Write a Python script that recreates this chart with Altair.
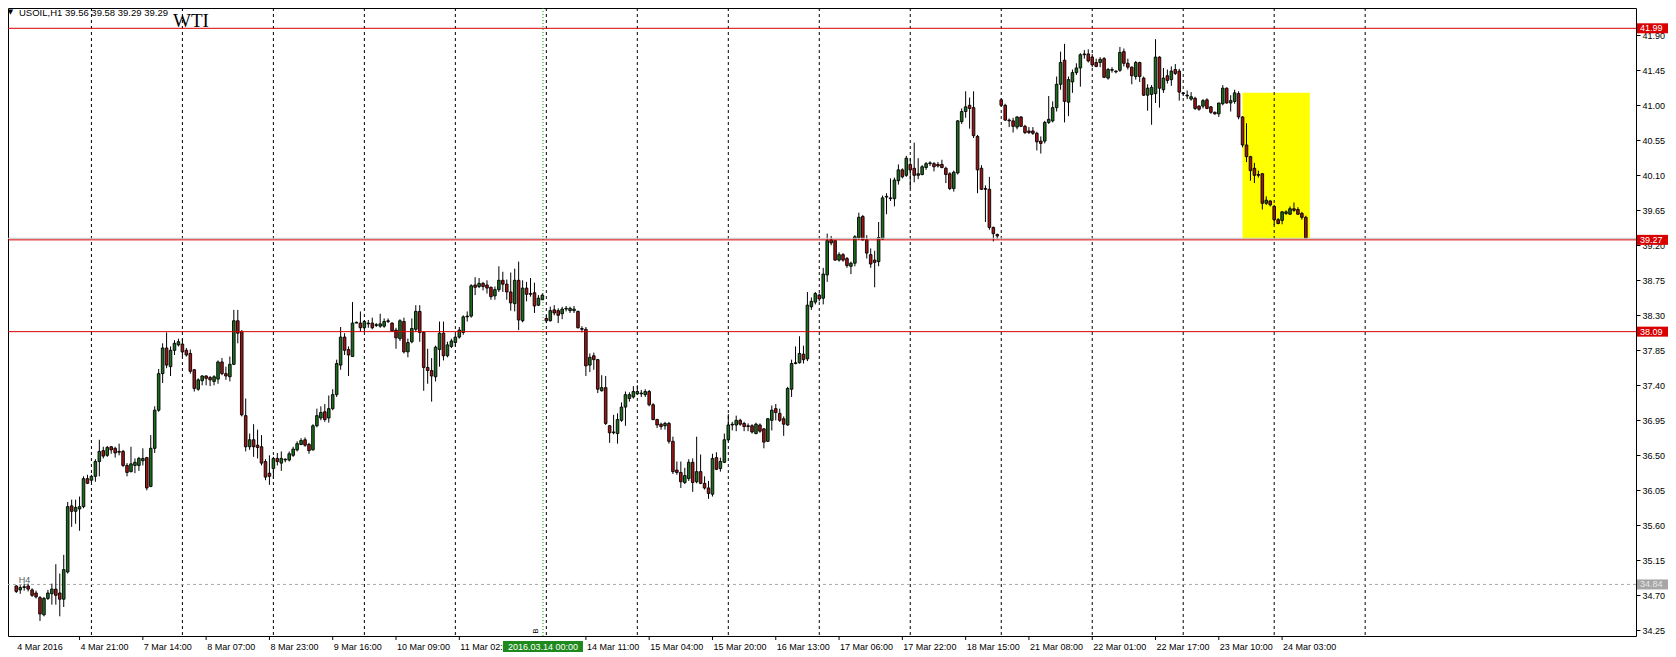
import altair as alt
import pandas as pd

# ---------------- data (USOIL, H1, 4 Mar 2016 05:00 -> 24 Mar 2016 09:00) ----------------
opens = [
    34.82, 34.77, 34.80, 34.82, 34.77, 34.73, 34.67, 34.45, 34.66, 34.72,
    34.78, 34.73, 34.65, 35.00, 35.85, 35.78, 35.81, 35.84, 36.20, 36.18,
    36.23, 36.42, 36.56, 36.50, 36.61, 36.59, 36.54, 36.55, 36.37, 36.29,
    36.37, 36.37, 36.43, 36.47, 36.10, 36.59, 37.08, 37.55, 37.88, 37.64,
    37.85, 37.92, 37.93, 37.85, 37.81, 37.60, 37.35, 37.46, 37.52, 37.50,
    37.45, 37.48, 37.70, 37.55, 37.51, 37.67, 38.23, 38.09, 37.01, 36.61,
    36.70, 36.63, 36.61, 36.42, 36.27, 36.33, 36.46, 36.40, 36.44, 36.44,
    36.50, 36.57, 36.64, 36.70, 36.64, 36.57, 36.88, 36.98, 37.06, 36.98,
    37.10, 37.28, 37.66, 38.02, 37.86, 37.77, 38.20, 38.20, 38.14, 38.19,
    38.20, 38.17, 38.16, 38.16, 38.22, 38.20, 38.11, 38.00, 38.22, 37.83,
    37.96, 38.12, 38.35, 38.08, 37.63, 37.59, 37.51, 37.86, 38.07, 37.78,
    37.90, 37.95, 38.02, 38.08, 38.28, 38.29, 38.69, 38.67, 38.71, 38.69,
    38.66, 38.55, 38.63, 38.75, 38.70, 38.60, 38.45, 38.75, 38.23, 38.65,
    38.58, 38.59, 38.43, 38.50, 38.26, 38.23, 38.37, 38.36, 38.32, 38.38,
    38.36, 38.36, 38.35, 38.13, 38.12, 37.66, 37.78, 37.73, 37.33, 37.37,
    36.88, 36.79, 36.78, 36.95, 37.12, 37.23, 37.25, 37.29, 37.29, 37.28,
    37.32, 37.15, 36.96, 36.90, 36.88, 36.91, 36.68, 36.31, 36.28, 36.15,
    36.20, 36.41, 36.16, 36.29, 36.14, 36.08, 36.00, 36.47, 36.33, 36.41,
    36.70, 36.89, 36.89, 36.95, 36.91, 36.88, 36.88, 36.78, 36.89, 36.84,
    36.68, 36.95, 37.10, 37.04, 36.97, 36.89, 37.35, 37.68, 37.69, 37.80,
    37.74, 38.41, 38.47, 38.56, 38.52, 38.82, 39.27, 39.26, 39.01, 39.08,
    39.03, 38.93, 38.97, 39.30, 39.57, 39.27, 39.08, 39.01, 38.99, 39.28,
    39.82, 39.80, 39.80, 40.03, 40.17, 40.10, 40.24, 40.19, 40.10, 40.11,
    40.20, 40.25, 40.25, 40.24, 40.24, 40.19, 40.12, 39.93, 40.13, 40.79,
    40.92, 41.00, 40.97, 40.60, 40.19, 39.93, 39.92, 39.43, 39.34, 41.07,
    41.00, 40.81, 40.80, 40.72, 40.85, 40.73, 40.67, 40.67, 40.64, 40.54,
    40.54, 40.78, 40.80, 40.97, 41.27, 41.58, 41.04, 41.30, 41.42, 41.48,
    41.65, 41.66, 41.62, 41.55, 41.55, 41.60, 41.35, 41.45, 41.44, 41.45,
    41.69, 41.54, 41.49, 41.37, 41.55, 41.35, 41.13, 41.14, 41.15, 41.62,
    41.20, 41.38, 41.33, 41.46, 41.44, 41.16, 41.13, 41.08, 41.09, 40.99,
    40.99, 41.07, 40.98, 40.91, 40.89, 41.02, 41.22, 41.03, 41.05, 41.15,
    40.85, 40.49, 40.34, 40.19, 40.10, 40.12, 39.74, 39.77, 39.70, 39.53,
    39.52, 39.61, 39.60, 39.67, 39.66, 39.61, 39.56,
]
highs = [
    34.83, 34.83, 34.85, 34.85, 34.79, 34.76, 34.69, 34.68, 34.77, 34.85,
    35.10, 34.98, 35.22, 35.90, 35.93, 35.93, 35.97, 36.23, 36.25, 36.25,
    36.45, 36.70, 36.61, 36.62, 36.62, 36.61, 36.65, 36.57, 36.40, 36.61,
    36.46, 36.48, 36.59, 36.48, 36.76, 37.13, 37.61, 37.94, 38.08, 37.90,
    37.98, 38.00, 38.00, 37.88, 37.86, 37.61, 37.49, 37.53, 37.53, 37.52,
    37.53, 37.72, 37.75, 37.64, 37.77, 38.37, 38.37, 38.11, 37.23, 36.78,
    36.90, 36.83, 36.76, 36.45, 36.50, 36.48, 36.53, 36.55, 36.46, 36.55,
    36.61, 36.68, 36.72, 36.73, 36.66, 36.90, 37.10, 37.13, 37.16, 37.27,
    37.35, 37.73, 38.15, 38.07, 37.90, 38.47, 38.22, 38.35, 38.24, 38.24,
    38.27, 38.20, 38.32, 38.26, 38.26, 38.21, 38.14, 38.25, 38.27, 38.00,
    38.26, 38.43, 38.43, 38.09, 37.87, 37.75, 37.91, 38.22, 38.22, 37.96,
    38.00, 38.05, 38.15, 38.30, 38.35, 38.70, 38.79, 38.78, 38.73, 38.75,
    38.67, 38.67, 38.93, 38.86, 38.76, 38.85, 38.90, 38.99, 38.75, 38.73,
    38.78, 38.72, 38.56, 38.58, 38.30, 38.41, 38.43, 38.39, 38.41, 38.42,
    38.41, 38.42, 38.36, 38.16, 38.15, 37.81, 37.82, 37.74, 37.53, 37.52,
    36.89, 37.02, 37.04, 37.18, 37.32, 37.31, 37.39, 37.40, 37.34, 37.35,
    37.34, 37.17, 36.97, 36.92, 36.93, 36.93, 36.74, 36.42, 36.42, 36.34,
    36.45, 36.46, 36.74, 36.51, 36.23, 36.17, 36.52, 36.54, 36.47, 36.78,
    37.03, 36.93, 37.01, 36.97, 36.93, 36.91, 36.90, 36.92, 36.91, 36.85,
    36.98, 37.14, 37.16, 37.10, 37.00, 37.38, 37.73, 37.90, 38.03, 37.91,
    38.60, 38.53, 38.60, 38.58, 38.91, 39.35, 39.32, 39.27, 39.11, 39.10,
    39.05, 38.99, 39.33, 39.62, 39.59, 39.33, 39.16, 39.13, 39.50, 39.84,
    39.87, 40.06, 40.07, 40.24, 40.19, 40.35, 40.32, 40.52, 40.32, 40.23,
    40.27, 40.28, 40.27, 40.27, 40.30, 40.21, 40.14, 40.16, 40.81, 40.96,
    41.18, 41.10, 41.18, 40.62, 40.23, 39.97, 40.08, 39.44, 39.35, 41.09,
    41.02, 40.83, 40.84, 40.86, 40.86, 40.75, 40.72, 40.72, 40.66, 40.60,
    40.80, 41.12, 41.05, 41.37, 41.69, 41.79, 41.37, 41.46, 41.54, 41.67,
    41.71, 41.72, 41.66, 41.60, 41.62, 41.62, 41.48, 41.49, 41.45, 41.75,
    41.73, 41.60, 41.50, 41.57, 41.56, 41.37, 41.27, 41.26, 41.85, 41.63,
    41.48, 41.46, 41.50, 41.53, 41.47, 41.17, 41.19, 41.17, 41.11, 41.00,
    41.08, 41.09, 40.99, 40.92, 41.03, 41.26, 41.23, 41.13, 41.20, 41.18,
    40.86, 40.77, 40.35, 40.26, 40.16, 40.13, 39.83, 39.78, 39.72, 39.55,
    39.64, 39.65, 39.70, 39.75, 39.69, 39.63, 39.58,
]
lows = [
    34.73, 34.72, 34.76, 34.75, 34.68, 34.66, 34.37, 34.43, 34.64, 34.58,
    34.58, 34.43, 34.55, 34.98, 35.58, 35.62, 35.53, 35.82, 36.13, 36.15,
    36.16, 36.23, 36.46, 36.48, 36.52, 36.47, 36.50, 36.35, 36.23, 36.28,
    36.27, 36.30, 36.37, 36.05, 36.09, 36.53, 37.06, 37.43, 37.62, 37.52,
    37.79, 37.90, 37.77, 37.77, 37.55, 37.32, 37.33, 37.40, 37.40, 37.39,
    37.40, 37.42, 37.53, 37.47, 37.45, 37.66, 37.94, 37.00, 36.55, 36.57,
    36.48, 36.46, 36.37, 36.18, 36.12, 36.20, 36.37, 36.30, 36.41, 36.42,
    36.48, 36.55, 36.63, 36.61, 36.52, 36.56, 36.86, 36.95, 36.93, 36.92,
    37.08, 37.25, 37.60, 37.79, 37.52, 37.77, 38.20, 38.09, 38.09, 38.14,
    38.12, 38.15, 38.14, 38.14, 38.20, 38.09, 37.87, 37.97, 37.81, 37.76,
    37.94, 38.09, 37.96, 37.33, 37.42, 37.19, 37.45, 37.64, 37.72, 37.76,
    37.88, 37.90, 38.00, 38.05, 38.22, 38.27, 38.56, 38.65, 38.62, 38.58,
    38.50, 38.50, 38.60, 38.60, 38.50, 38.36, 38.35, 38.11, 38.21, 38.48,
    38.54, 38.33, 38.42, 38.50, 38.20, 38.22, 38.30, 38.20, 38.25, 38.35,
    38.33, 38.33, 38.13, 38.08, 37.52, 37.57, 37.60, 37.30, 37.32, 36.89,
    36.66, 36.77, 36.65, 36.93, 36.88, 37.19, 37.23, 37.28, 37.25, 37.25,
    37.13, 36.95, 36.85, 36.83, 36.83, 36.65, 36.26, 36.25, 36.08, 36.13,
    36.17, 36.03, 36.14, 36.13, 36.06, 35.94, 35.97, 36.31, 36.29, 36.40,
    36.68, 36.82, 36.81, 36.88, 36.81, 36.81, 36.78, 36.77, 36.79, 36.59,
    36.67, 36.82, 36.95, 36.93, 36.75, 36.88, 37.25, 37.67, 37.68, 37.68,
    37.71, 38.37, 38.44, 38.48, 38.44, 38.73, 39.20, 39.00, 38.99, 38.99,
    38.91, 38.83, 38.93, 39.27, 39.26, 39.03, 38.91, 38.66, 38.93, 39.27,
    39.60, 39.77, 39.70, 39.98, 40.06, 40.08, 39.93, 40.01, 40.05, 40.10,
    40.17, 40.22, 40.15, 40.20, 40.19, 40.00, 39.91, 39.89, 40.11, 40.76,
    40.84, 40.70, 40.58, 39.87, 39.91, 39.50, 39.40, 39.25, 39.28, 40.98,
    40.80, 40.72, 40.65, 40.69, 40.72, 40.63, 40.63, 40.62, 40.42, 40.38,
    40.51, 40.76, 40.78, 40.92, 41.20, 40.78, 40.86, 41.16, 41.39, 41.24,
    41.60, 41.55, 41.49, 41.49, 41.49, 41.35, 41.33, 41.42, 41.41, 41.43,
    41.50, 41.46, 41.27, 41.33, 41.30, 41.12, 40.93, 40.75, 41.03, 40.97,
    41.16, 41.28, 41.25, 41.39, 41.06, 41.12, 41.08, 41.06, 40.94, 40.93,
    40.96, 40.95, 40.89, 40.88, 40.85, 41.00, 41.02, 40.92, 41.02, 40.82,
    40.46, 40.27, 40.03, 40.00, 40.07, 39.66, 39.72, 39.70, 39.46, 39.47,
    39.47, 39.59, 39.59, 39.63, 39.59, 39.53, 39.29,
]
closes = [
    34.75, 34.80, 34.81, 34.78, 34.70, 34.68, 34.46, 34.66, 34.73, 34.78,
    34.70, 34.65, 35.03, 35.84, 35.78, 35.83, 35.84, 36.20, 36.14, 36.23,
    36.42, 36.55, 36.49, 36.60, 36.57, 36.53, 36.55, 36.37, 36.28, 36.39,
    36.41, 36.46, 36.46, 36.08, 36.59, 37.08, 37.55, 37.88, 37.66, 37.85,
    37.94, 37.96, 37.83, 37.79, 37.58, 37.36, 37.47, 37.52, 37.49, 37.47,
    37.51, 37.70, 37.55, 37.52, 37.67, 38.23, 38.07, 37.02, 36.61, 36.70,
    36.61, 36.60, 36.40, 36.22, 36.23, 36.46, 36.42, 36.46, 36.45, 36.52,
    36.58, 36.65, 36.69, 36.63, 36.56, 36.88, 37.01, 37.05, 36.96, 37.10,
    37.28, 37.68, 38.02, 37.85, 37.79, 38.20, 38.21, 38.14, 38.22, 38.20,
    38.14, 38.18, 38.19, 38.22, 38.23, 38.10, 38.01, 38.23, 37.83, 37.95,
    38.13, 38.35, 38.08, 37.63, 37.59, 37.52, 37.89, 38.07, 37.78, 37.92,
    37.97, 38.02, 38.11, 38.28, 38.29, 38.68, 38.66, 38.71, 38.67, 38.65,
    38.54, 38.63, 38.75, 38.70, 38.60, 38.46, 38.75, 38.24, 38.65, 38.57,
    38.57, 38.42, 38.52, 38.56, 38.23, 38.36, 38.33, 38.30, 38.38, 38.39,
    38.39, 38.38, 38.14, 38.12, 37.65, 37.76, 37.73, 37.35, 37.37, 36.91,
    36.79, 36.80, 36.96, 37.12, 37.28, 37.28, 37.32, 37.32, 37.30, 37.32,
    37.15, 36.96, 36.89, 36.87, 36.91, 36.68, 36.29, 36.28, 36.16, 36.24,
    36.41, 36.15, 36.29, 36.14, 36.08, 36.01, 36.46, 36.32, 36.42, 36.70,
    36.89, 36.90, 36.95, 36.90, 36.87, 36.87, 36.80, 36.90, 36.81, 36.67,
    36.97, 37.08, 37.05, 36.95, 36.90, 37.36, 37.68, 37.69, 37.81, 37.73,
    38.43, 38.48, 38.58, 38.51, 38.83, 39.26, 39.23, 39.01, 39.08, 39.01,
    38.94, 38.97, 39.31, 39.56, 39.27, 39.10, 38.96, 38.98, 39.30, 39.81,
    39.83, 39.81, 40.04, 40.17, 40.08, 40.32, 40.17, 40.10, 40.12, 40.21,
    40.25, 40.26, 40.21, 40.22, 40.20, 40.11, 39.93, 40.14, 40.80, 40.92,
    40.98, 40.96, 40.61, 40.17, 39.92, 39.92, 39.43, 39.35, 39.32, 41.00,
    40.81, 40.80, 40.73, 40.85, 40.73, 40.65, 40.65, 40.64, 40.53, 40.51,
    40.78, 40.82, 40.97, 41.27, 41.55, 41.05, 41.33, 41.42, 41.48, 41.65,
    41.66, 41.57, 41.52, 41.50, 41.59, 41.36, 41.46, 41.46, 41.43, 41.68,
    41.54, 41.49, 41.38, 41.55, 41.37, 41.13, 41.22, 41.23, 41.62, 41.22,
    41.35, 41.32, 41.44, 41.41, 41.17, 41.15, 41.12, 41.11, 40.96, 40.95,
    41.06, 40.96, 40.91, 40.89, 41.03, 41.22, 41.03, 41.06, 41.16, 40.85,
    40.49, 40.34, 40.16, 40.10, 40.11, 39.74, 39.78, 39.72, 39.53, 39.48,
    39.63, 39.63, 39.67, 39.65, 39.60, 39.56, 39.29,
]

# bar index of the first hour of each trading day (period separators)
day_start_bars = [19, 42, 65, 88, 111, 134, 157, 180, 203, 226, 249, 272, 295, 318, 341]
# time-axis labels
time_label_bars = [0, 16, 32, 48, 64, 80, 96, 112, 144, 160, 176, 192, 208, 224, 240, 256, 272, 288, 304, 320]
time_label_texts = ["4 Mar 2016", "4 Mar 21:00", "7 Mar 14:00", "8 Mar 07:00", "8 Mar 23:00",
                    "9 Mar 16:00", "10 Mar 09:00", "11 Mar 02:00", "14 Mar 11:00", "15 Mar 04:00",
                    "15 Mar 20:00", "16 Mar 13:00", "17 Mar 06:00", "17 Mar 22:00", "18 Mar 15:00",
                    "21 Mar 08:00", "22 Mar 01:00", "22 Mar 17:00", "23 Mar 10:00", "24 Mar 03:00"]
price_tick_values = [41.90, 41.45, 41.00, 40.55, 40.10, 39.65, 39.20, 38.75, 38.30,
                     37.85, 37.40, 36.95, 36.50, 36.05, 35.60, 35.15, 34.70, 34.25]
red_line_levels = [41.99, 39.27, 38.09]
h4_levels = [34.84]
zone_bars = [310, 327]
zone_prices = [41.16, 39.28]
vline_bars = [133.15]
vline_texts = ["2016.03.14 00:00"]

# ---------------- layout ----------------
W, H = 1628, 628
FONT = "Liberation Sans"
BULL, BEAR = "#1c6e1c", "#a01414"
RED = "#d80000"

xs = alt.Scale(domain=[-0.825, 408.2], nice=False, zero=False)
ys = alt.Scale(domain=[34.177, 42.251], nice=False, zero=False)
YAXIS = alt.Axis(
    orient="right", values=price_tick_values, format=".2f", title=None, grid=False,
    domain=False, ticks=True, tickColor="black", tickSize=4, labelColor="black",
    labelFont=FONT, labelFontSize=9, labelPadding=2, labelAlign="left",
    labelBaseline="middle", labelOverlap=False, labelFlush=False, zindex=0)


def X(f="k"):
    return alt.X(f"{f}:Q", scale=xs, axis=None)


def Y(f):
    return alt.Y(f"{f}:Q", scale=ys, axis=YAXIS)


candles = pd.DataFrame({"k": list(range(len(opens))), "o": opens, "h": highs, "l": lows, "c": closes})
candles["dir"] = ["up" if c >= o else "down" for o, c in zip(opens, closes)]

zone_df = pd.DataFrame({"k1": [zone_bars[0]], "k2": [zone_bars[1]],
                        "p1": [zone_prices[0]], "p2": [zone_prices[1]]})
zone = alt.Chart(zone_df).mark_rect(color="#ffff00").encode(
    x=X("k1"), x2="k2:Q", y=Y("p1"), y2="p2:Q")

seps = alt.Chart(pd.DataFrame({"k": day_start_bars})).mark_rule(
    color="black", strokeDash=[3, 3], strokeWidth=1).encode(x=X())

vline = alt.Chart(pd.DataFrame({"k": vline_bars})).mark_rule(
    color="#00a000", strokeDash=[1, 2], strokeWidth=1).encode(x=X())

h4line = alt.Chart(pd.DataFrame({"p": h4_levels})).mark_rule(
    color="#a8a8a8", strokeDash=[3, 3], strokeWidth=1).encode(y=Y("p"))

wicks = alt.Chart(candles).mark_rule(color="black", strokeWidth=1).encode(
    x=X(), y=Y("l"), y2="h:Q")

bodies = alt.Chart(candles).mark_bar(size=2.6, stroke="black", strokeWidth=0.9).encode(
    x=X(),
    y=Y("o"),
    y2="c:Q",
    fill=alt.Color("dir:N", scale=alt.Scale(domain=["up", "down"], range=[BULL, BEAR]), legend=None),
)

bid = alt.Chart(pd.DataFrame({"p": [closes[-1]]})).mark_rule(
    color="#c4c4c4", strokeWidth=1).encode(y=Y("p"))

redlines = alt.Chart(pd.DataFrame({"p": red_line_levels})).mark_rule(
    color=RED, strokeWidth=1).encode(y=Y("p"))

tag_df = pd.DataFrame({
    "p": red_line_levels + h4_levels,
    "t": [f"{v:.2f}" for v in red_line_levels + h4_levels],
    "bg": [RED] * len(red_line_levels) + ["#a6a6a6"] * len(h4_levels),
    "fg": ["white"] * len(red_line_levels) + ["#e6e6e6"] * len(h4_levels),
})
tag_box = alt.Chart(tag_df).mark_rule(strokeWidth=10, strokeCap="butt").encode(
    x=alt.value(W + 1), x2=alt.value(W + 33), y=Y("p"), color=alt.Color("bg:N", scale=None))
tag_txt = alt.Chart(tag_df).mark_text(align="left", baseline="middle", font=FONT, fontSize=9).encode(
    x=alt.value(W + 4), y=Y("p"), text="t:N", color=alt.Color("fg:N", scale=None))

tlab_df = pd.DataFrame({"k": time_label_bars, "t": time_label_texts})
tticks = alt.Chart(tlab_df.iloc[1:]).mark_rule(color="black", strokeWidth=1).encode(
    x=X(), y=alt.value(H), y2=alt.value(H + 4))
tlabels = alt.Chart(tlab_df).mark_text(align="left", baseline="middle", dx=1, font=FONT,
                                        fontSize=9, color="black").encode(
    x=X(), y=alt.value(H + 11), text="t:N")

vl_df = pd.DataFrame({"k": vline_bars, "t": vline_texts})
vl_box = alt.Chart(vl_df).mark_point(
    shape="M-1,-0.2L1,-0.2L1,0.2L-1,0.2Z", size=6400, filled=True, fill="#1e8a1e",
    opacity=1, strokeWidth=0).encode(x=X(), y=alt.value(H + 13))
vl_txt = alt.Chart(vl_df).mark_text(align="center", baseline="middle", font=FONT, fontSize=9,
                                     color="white").encode(x=X(), y=alt.value(H + 11), text="t:N")

title_txt = f"USOIL,H1  {opens[-1]:.2f} {highs[-1]:.2f} {lows[-1]:.2f} {closes[-1]:.2f}"
tri = alt.Chart(pd.DataFrame({"t": ["▼"]})).mark_text(
    align="center", baseline="middle", fontSize=7, font="DejaVu Sans", color="black").encode(
    x=alt.value(2.5), y=alt.value(4), text="t:N")
ttl = alt.Chart(pd.DataFrame({"t": [title_txt]})).mark_text(
    align="left", baseline="alphabetic", font=FONT, fontSize=9.5, color="black").encode(
    x=alt.value(11), y=alt.value(8), text="t:N")
wti = alt.Chart(pd.DataFrame({"t": ["WTI"]})).mark_text(
    align="left", baseline="alphabetic", font="Liberation Serif", fontSize=19, color="black").encode(
    x=alt.value(165), y=alt.value(19), text="t:N")
h4txt = alt.Chart(pd.DataFrame({"k": [0.6], "p": [34.86], "t": ["H4"]})).mark_text(
    align="left", baseline="alphabetic", font=FONT, fontSize=9, color="#5a5a5a").encode(
    x=X(), y=Y("p"), text="t:N")
btxt = alt.Chart(pd.DataFrame({"k": [131.4], "p": [34.24], "t": ["B"]})).mark_text(
    align="center", baseline="middle", font=FONT, fontSize=8, angle=270, color="black").encode(
    x=X(), y=Y("p"), text="t:N")

chart = alt.layer(
    zone, seps, vline, h4line, wicks, bodies, bid, redlines,
    tag_box, tag_txt, tticks, tlabels, vl_box, vl_txt, tri, ttl, wti, h4txt, btxt,
).properties(
    width=W, height=H,
    padding={"left": 0, "top": 0, "right": 32, "bottom": 16},
    autosize=alt.AutoSizeParams(type="none"),
    background="white",
).configure_view(stroke="black", strokeWidth=1)

chart.save("out.html", embed_options={"renderer": "svg", "actions": False})
